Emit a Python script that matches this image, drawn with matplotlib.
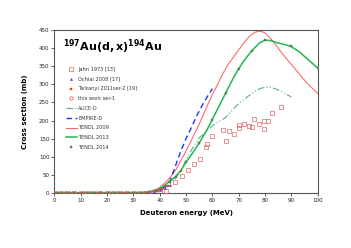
import matplotlib
matplotlib.use("Agg")
import matplotlib.pyplot as plt
import numpy as np

# ---- data ----
jahn_E = [0, 2.5, 5, 7.5, 10, 12.5, 15, 17.5, 20, 22.5, 25, 27.5, 30, 32.5, 35, 37.5, 40, 42.5,
          45.8, 48.3, 50.8, 53.1, 55.3, 57.6, 57.8, 59.7, 64.1, 65.3, 66.3, 68.2, 70.2, 70.1,
          72.1, 74.0, 75.2, 75.9, 77.7, 79.6, 79.7, 81.2, 82.8, 86.1]
jahn_S = [0, 0, 0, 0, 0, 0, 0, 0, 0, 0, 0, 0, 0, 0, 0, 1, 2, 5,
          30, 46, 63, 80, 93, 128, 134, 157, 173, 143, 171, 163, 188, 179,
          190, 184, 183, 204, 190, 198, 176, 200, 220, 237]

ochiai_E = [38, 40, 42, 44]
ochiai_S = [3, 7, 14, 22]

tark_E = [36, 39, 41, 43]
tark_S = [2, 6, 12, 20]

this_E = [1, 4, 7, 11, 14, 17, 21, 24, 27, 31, 34]
this_S = [0, 0, 0, 0, 0, 0, 0, 0, 0, 0, 0]

alice_E = [0, 30, 38, 40, 42, 44, 46, 48, 50, 52, 55, 58, 60, 62, 65, 68, 70, 73, 76, 78, 80, 82, 85, 88, 90]
alice_S = [0, 0, 3, 8, 15, 25, 40, 62, 90, 118, 152, 172, 185, 195, 208, 232, 247, 264, 280, 288, 292, 292, 285, 273, 265]

empire_E = [0, 30, 35, 38, 40, 42, 44, 46, 48, 50, 52, 54, 56, 58, 60]
empire_S = [0, 0, 1, 4, 8, 17, 35, 75, 115, 150, 180, 212, 240, 265, 288]

t09_E = [0, 33, 36, 38, 40, 43, 46, 49, 52, 55, 58, 60, 62, 64, 66, 68, 70, 72, 74, 76, 77.5, 79, 80, 82, 84, 86, 88, 90, 92, 94, 96, 98, 100]
t09_S = [0, 0, 3, 8, 15, 35, 62, 102, 145, 190, 240, 272, 300, 330, 355, 375, 395, 415, 432, 443, 447, 445, 442, 428, 410, 390, 372, 355, 338, 320, 303, 289, 275]

t13_E = [0, 33, 35, 38, 40, 42, 44, 46, 48, 50, 52, 55, 58, 60, 62, 65, 68, 70, 72, 75, 78, 80, 82, 85, 88, 90, 93, 95, 98, 100]
t13_S = [0, 0.5, 2, 6, 12, 22, 33, 45, 62, 85, 105, 138, 175, 203, 232, 275, 318, 343, 365, 393, 415, 422, 421, 414, 409, 404, 390, 377, 358, 345]

t14_E = [0, 2, 4, 6, 8, 10, 12, 14, 16, 18, 20, 22, 24, 26, 28, 30, 32, 34, 36, 38, 40, 42, 44, 46, 48, 50, 55, 60, 65, 70, 75, 80, 90, 100]
t14_S = [0, 0, 0, 0, 0, 0, 0, 0, 0, 0, 0, 0, 0, 0, 0, 0, 0, 0.5, 2, 5, 10, 19, 30, 45, 61, 85, 137, 202, 275, 343, 393, 422, 405, 346]

# ---- figure ----
fig = plt.figure(figsize=(3.51, 2.48), dpi=100)
ax = fig.add_axes([0.155, 0.222, 0.75, 0.657])

ax.plot(t09_E, t09_S, color='#ff6b6b', lw=0.8, label='TENDL 2009', zorder=2)
ax.plot(t13_E, t13_S, color='#1fb84f', lw=1.1, label='TENDL 2013', zorder=3)
ax.plot(alice_E, alice_S, color='#5fae8a', lw=0.8, ls=(0, (6, 2, 1, 2, 1, 2)), label='ALICE-D', zorder=2)
ax.plot(empire_E, empire_S, color='#2233ee', lw=1.0, ls=(0, (4, 2.5)), label='EMPIRE-D', zorder=2)
ax.plot(t14_E, t14_S, ls='none', marker='s', ms=2.0, mfc='#5a7a4a', mec='#6a8a5a', mew=0.3, label='TENDL 2014', zorder=4)

ax.plot(jahn_E, jahn_S, ls='none', marker='s', ms=2.4, mfc='none', mec='#e06868', mew=0.5, label='Jahn 1973 [13]', zorder=5)
ax.plot(ochiai_E, ochiai_S, ls='none', marker='^', ms=1.6, mfc='#3344cc', mec='#3344cc', mew=0.3, label='Ochiai 2008 [17]', zorder=5)
ax.plot(tark_E, tark_S, ls='none', marker='s', ms=2.0, mfc='#ee3333', mec='#ee3333', mew=0.3, label='Tarkanyi 2011ser-2 [19]', zorder=5)
ax.plot(this_E, this_S, ls='none', marker='o', ms=2.4, mfc='none', mec='#ee4444', mew=0.5, label='this work ser-1', zorder=5)

ax.set_xlim(0, 100)
ax.set_ylim(0, 450)
ax.set_xticks(np.arange(0, 101, 10))
ax.set_yticks(np.arange(0, 451, 50))
ax.tick_params(labelsize=4, length=2, width=0.5, pad=1.5, colors='#222222')
for s in ax.spines.values():
    s.set_color('#555555')
    s.set_linewidth(0.8)

ax.set_xlabel('Deuteron energy (MeV)', fontsize=5, fontweight='bold', labelpad=5)
ax.set_ylabel('Cross section (mb)', fontsize=5, fontweight='bold', labelpad=8)

ax.text(22.2, 403, r'$\mathbf{^{197}Au(d,x)^{194}Au}$', fontsize=8, ha='center', va='center')

handles, labels = ax.get_legend_handles_labels()
order = ['Jahn 1973 [13]', 'Ochiai 2008 [17]', 'Tarkanyi 2011ser-2 [19]', 'this work ser-1',
         'ALICE-D', 'EMPIRE-D', 'TENDL 2009', 'TENDL 2013', 'TENDL 2014']
hmap = dict(zip(labels, handles))
leg = ax.legend([hmap[k] for k in order], order, loc='upper left', bbox_to_anchor=(0.03, 0.795),
                fontsize=3.6, frameon=False, labelspacing=0.95, handlelength=2.2,
                handletextpad=0.3, borderpad=0.2)
for t in leg.get_texts():
    t.set_color('#333333')

fig.savefig('out.png', dpi=100)
